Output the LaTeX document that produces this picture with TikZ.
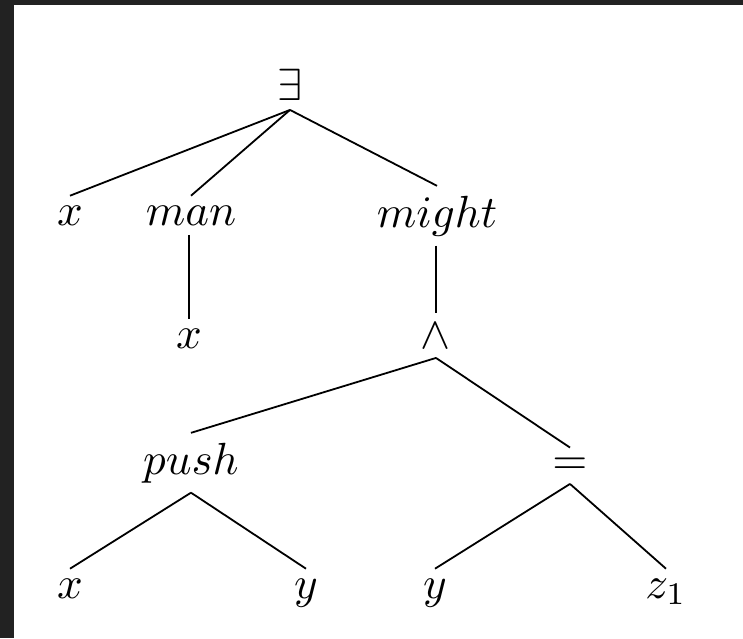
\documentclass[tikz,border=0pt]{standalone}
\usepackage{amsmath}
\usepackage{amssymb}
\usepackage{tikz}
\usepackage{xcolor}
\usetikzlibrary{positioning}
\definecolor{framegray}{RGB}{34,34,34}

\begin{document}
\begin{tikzpicture}[x=0.222pt, y=-0.222pt, lbl/.style={inner sep=2pt, anchor=base}, edge/.style={line width=0.4pt}]
  % screenshot frame
  \fill[framegray] (0,0) rectangle (743,638);
  \fill[white] (14,5) rectangle (743,638);
  \useasboundingbox (0,0) rectangle (743,638);
  % nodes
  \node[lbl] (ex) at (290,100) {$\exists$};
  \node[lbl] (xa) at (70,225) {$x$};
  \node[lbl] (man) at (191,225) {$man$};
  \node[lbl] (might) at (437,227) {$might$};
  \node[lbl] (xb) at (189,348) {$x$};
  \node[lbl] (conj) at (436,348) {$\wedge$};
  \node[lbl] (push) at (191,474) {$push$};
  \node[lbl] (eq) at (570,474) {$=$};
  \node[lbl] (xc) at (70,598) {$x$};
  \node[lbl] (ya) at (306,598) {$y$};
  \node[lbl] (yb) at (435,598) {$y$};
  \node[lbl] (zz) at (666,598) {$z_1$};
  % edges
  \draw[edge] (ex.south) -- (xa.north);
  \draw[edge] (ex.south) -- (man.north);
  \draw[edge] (ex.south) -- (might.north);
  \draw[edge] (man.south -| xb.north) -- (xb.north);
  \draw[edge] (might.south -| conj.north) -- (conj.north);
  \draw[edge] (conj.south) -- (push.north);
  \draw[edge] (conj.south) -- (eq.north);
  \draw[edge] (push.south) -- (xc.north);
  \draw[edge] (push.south) -- (ya.north);
  \draw[edge] (eq.south) -- (yb.north);
  \draw[edge] (eq.south) -- (zz.north);
\end{tikzpicture}
\end{document}
